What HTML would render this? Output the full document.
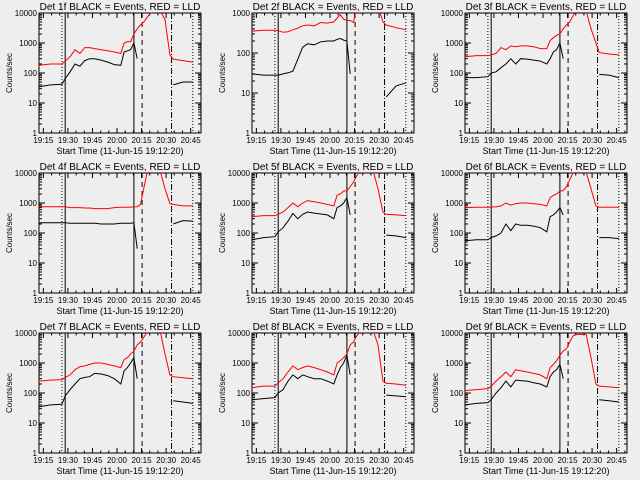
<!DOCTYPE html>
<html><head><meta charset="utf-8"><style>
html,body{margin:0;padding:0;background:#eeeeee;}
svg{display:block;font-family:"Liberation Sans",sans-serif;}
</style></head><body>
<svg id="chart" width="640" height="480" viewBox="0 0 640 480"></svg>
<script>
// time grid in minutes after 19:12:20
const times = [0,7,14,16,19,22,25,28,31,34,38,42,46,50,52,54,56,58,60,62,64,66,68,71,74,77,80,82,88,94];
const N = null;
const detNames = ["1f","2f","3f","4f","5f","6f","7f","8f","9f"];
const yMaxExp = [4,3,4,4,4,4,4,4,4];
const tickLabels = ["19:15","19:30","19:45","20:00","20:15","20:30","20:45"];
const tickTimes = [2.67,17.67,32.67,47.67,62.67,77.67,92.67];
const black1 = [35,40,42,65,110,200,170,260,300,300,270,230,190,180,500,550,600,1000,300,N,N,N,N,N,N,N,N,40,50,50];
const red1 = [180,200,200,250,350,600,450,700,700,650,600,550,500,450,1000,1100,1100,2000,3000,4000,5000,7000,10000,12000,12000,6000,400,290,260,230];
const black2 = [30,28,28,28,30,32,35,70,140,170,160,190,200,200,220,230,210,200,30,N,N,N,N,N,N,N,N,8,15,18];
const red2 = [350,370,370,360,330,340,380,420,480,500,480,580,560,600,750,900,700,650,650,580,1500,3000,5000,5000,5000,1500,600,500,430,380];
const black3 = [70,70,75,100,110,150,200,300,200,300,290,270,250,200,300,500,600,1000,300,N,N,N,N,N,N,N,N,90,85,70];
const red3 = [350,380,380,400,450,700,600,800,750,800,800,750,650,650,1200,1500,1800,2000,3000,4000,5000,8000,12000,12000,12000,3000,1000,480,430,400];
const black4 = [220,220,220,220,210,210,210,210,210,210,200,200,200,210,210,210,210,220,30,N,N,N,N,N,N,N,N,200,260,250];
const red4 = [750,750,750,750,700,700,700,680,680,650,650,650,700,720,720,720,730,740,750,900,3000,10000,12000,12000,12000,3000,950,900,800,800];
const black5 = [60,70,75,110,150,250,450,300,420,500,460,430,400,300,700,800,1000,1500,400,N,N,N,N,N,N,N,N,85,80,70];
const red5 = [350,380,380,420,500,700,1000,750,1000,1200,1100,1000,900,800,1800,2000,2500,2600,3500,5000,8000,12000,12000,12000,12000,3000,500,420,400,380];
const black6 = [55,60,60,70,80,100,200,120,200,180,180,170,150,110,350,400,500,700,400,N,N,N,N,N,N,N,N,70,70,65];
const red6 = [700,720,720,730,750,800,1000,850,950,1000,1000,950,900,800,1500,1800,2000,2500,2600,3500,6000,10000,11000,11000,11000,3000,800,720,720,720];
const black7 = [35,40,42,80,130,200,300,330,350,450,430,380,300,200,550,700,1000,1500,300,N,N,N,N,N,N,N,N,55,50,45];
const red7 = [250,270,280,330,400,600,750,800,900,1000,1000,900,800,700,1300,1500,2000,2500,4000,5000,7000,11000,12000,12000,12000,2000,400,350,320,300];
const black8 = [60,65,70,100,130,250,400,300,400,350,300,300,250,200,400,700,1000,1800,400,N,N,N,N,N,N,N,N,85,80,75];
const red8 = [150,170,170,220,300,500,800,600,700,800,700,600,500,400,1000,1200,1500,2000,4000,5000,8000,11000,12000,12000,12000,4000,250,210,200,180];
const black9 = [40,45,48,60,100,150,250,160,270,260,250,220,200,160,350,500,600,900,300,N,N,N,N,N,N,N,N,60,55,50];
const red9 = [120,130,140,170,250,350,500,350,600,550,500,450,400,300,700,900,1200,1800,2500,3000,5000,8000,9000,9000,9000,1500,200,170,160,150];
const blacks = [black1,black2,black3,black4,black5,black6,black7,black8,black9];
const reds = [red1,red2,red3,red4,red5,red6,red7,red8,red9];
const markTimes = [14,16,58,63,81,94];

const NS = "http://www.w3.org/2000/svg";
const svg = document.getElementById("chart");
function mk(tag, attrs, parent){const e=document.createElementNS(NS,tag);for(const k in attrs)e.setAttribute(k,attrs[k]);(parent||svg).appendChild(e);return e;}

for(let p=0;p<9;p++){
  const ox=213*(p%3), oy=160*Math.floor(p/3);
  const L=ox+39,R=ox+201,T=oy+13,B=oy+133;
  const emax=yMaxExp[p];
  const xS=t=>L+t*(R-L)/99;
  const yS=v=>B-(Math.log10(v)/emax)*(B-T);
  const g=mk("g",{});
  
  
  const cp=mk("clipPath",{id:"cp"+p},g);
  mk("rect",{x:L,y:T,width:R-L,height:B-T},cp);
  const title=mk("text",{x:ox+120,y:oy+10,"text-anchor":"middle","font-size":"10"},g);
  title.textContent="Det "+detNames[p]+" BLACK = Events, RED = LLD";
  
  
  const box=mk("rect",{x:L,y:T,width:R-L,height:B-T,fill:"none",stroke:"#000","stroke-width":1},g);
  
  
  for(let i=0;i<tickTimes.length;i++){
    const x=xS(tickTimes[i]);
    mk("line",{x1:x,x2:x,y1:B,y2:B-5,stroke:"#000"},g);
    mk("line",{x1:x,x2:x,y1:T,y2:T+5,stroke:"#000"},g);
    const tl=mk("text",{x:x,y:B+10,"text-anchor":"middle","font-size":"8"},g);
    tl.textContent=tickLabels[i];
    
    
    for(let m=1;m<3;m++){const xm=xS(tickTimes[i]+5*m);if(xm<R){mk("line",{x1:xm,x2:xm,y1:B,y2:B-2.5,stroke:"#000"},g);mk("line",{x1:xm,x2:xm,y1:T,y2:T+2.5,stroke:"#000"},g);}}
  }
  for(let e=0;e<=emax;e++){
    const y=yS(Math.pow(10,e));
    mk("line",{x1:L,x2:L+6,y1:y,y2:y,stroke:"#000"},g);
    mk("line",{x1:R,x2:R-6,y1:y,y2:y,stroke:"#000"},g);
    const yl=mk("text",{x:L-2,y:y+3,"text-anchor":"end","font-size":"8"},g);
    yl.textContent=String(Math.pow(10,e));
    
    
    if(e<emax)for(let k=2;k<10;k++){const ym=yS(k*Math.pow(10,e));mk("line",{x1:L,x2:L+3,y1:ym,y2:ym,stroke:"#000"},g);mk("line",{x1:R,x2:R-3,y1:ym,y2:ym,stroke:"#000"},g);}
  }
  const xt=mk("text",{x:ox+120,y:oy+154,"text-anchor":"middle","font-size":"9"},g);
  xt.textContent="Start Time (11-Jun-15 19:12:20)";
  
  
  const yt=mk("text",{x:0,y:0,"text-anchor":"middle","font-size":"8",transform:"translate("+(ox+12)+","+(oy+73)+") rotate(-90)"},g);
  yt.textContent="Counts/sec";
  
  
  const dashes=["1,2","none","none","5,4","6,2,1,2","1,2"];
  for(let i=0;i<markTimes.length;i++){
    const x=xS(markTimes[i]);
    const vl=mk("line",{x1:x,x2:x,y1:T,y2:B,stroke:"#000","stroke-dasharray":dashes[i]},g);
    
    
  }
  function path(vals,color,name){
    let d="",pen=false;
    for(let i=0;i<times.length;i++){
      const v=vals[i];
      if(v===null){pen=false;continue;}
      d+=(pen?"L":"M")+xS(times[i]).toFixed(1)+","+yS(v).toFixed(1);
      pen=true;
    }
    const pe=mk("path",{d:d,fill:"none",stroke:color,"stroke-width":1,"clip-path":"url(#cp"+p+")"},g);
    
    
  }
  path(reds[p],"#ff0000","lld-series");
  path(blacks[p],"#000000","events-series");
}
</script>
</body></html>
